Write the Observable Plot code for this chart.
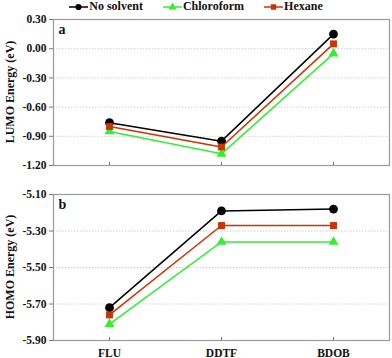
<!DOCTYPE html>
<html>
<head>
<meta charset="utf-8">
<script src="https://cdn.jsdelivr.net/npm/d3@7"></script>
<script src="https://cdn.jsdelivr.net/npm/@observablehq/plot@0.6"></script>
<style>
  html, body { margin: 0; padding: 0; background: #fff; }
  #wrap { position: relative; width: 392px; height: 358px; font-family: "Liberation Serif", "Times New Roman", serif; font-weight: bold; }
  #legend { position: absolute; left: 0; top: 0; width: 392px; height: 13px; display: flex; justify-content: center; align-items: center; gap: 20px; font-size: 12px; color: #111; }
  #legend span.item { display: flex; align-items: center; gap: 1px; }
  #topPanel, #bottomPanel { position: absolute; left: 0; }
  #topPanel { top: 12px; }
  #bottomPanel { top: 172px; }
  #wrap svg text { font-family: "Liberation Serif", "Times New Roman", serif !important; font-weight: bold; }
</style>
</head>
<body>
<div id="wrap">
  <div id="legend"></div>
  <div id="topPanel"></div>
  <div id="bottomPanel"></div>
</div>
<script>
const categories = ["FLU", "DDTF", "BDOB"];
const seriesNames = ["No solvent", "Chloroform", "Hexane"];
const seriesColors = ["#000000", "#33ee33", "#cc3300"];
const seriesSymbols = ["circle", "triangle", "square"];

const lumoNoSolvent = [-0.76, -0.95, 0.15];
const lumoChloroform = [-0.85, -1.08, -0.05];
const lumoHexane = [-0.80, -1.01, 0.05];

const homoNoSolvent = [-5.72, -5.19, -5.18];
const homoChloroform = [-5.81, -5.36, -5.36];
const homoHexane = [-5.76, -5.27, -5.27];

const lumoTicks = [0.30, 0.00, -0.30, -0.60, -0.90, -1.20];
const homoTicks = [-5.10, -5.30, -5.50, -5.70, -5.90];

function toRows(arrs) {
  const rows = [];
  arrs.forEach((vals, i) => {
    vals.forEach((v, j) => rows.push({series: seriesNames[i], cat: categories[j], value: v}));
  });
  return rows;
}
const lumoRows = toRows([lumoNoSolvent, lumoChloroform, lumoHexane]);
const homoRows = toRows([homoNoSolvent, homoChloroform, homoHexane]);

const symR = {circle: 4.4, triangle: 3.7, square: 3.9};
const FONT = '"Liberation Serif", "Times New Roman", serif';

function panel(rows, ticks, label, height, mt, mb, showLabels) {
  const dom = d3.extent(ticks);
  const marks = [
    Plot.ruleY(ticks, {stroke: "#c8d4d4", strokeDasharray: "1.5,1.5", strokeWidth: 1}),
    Plot.frame({stroke: "#9a9a9a", strokeWidth: 1.2}),
    Plot.axisY({ticks: ticks, tickFormat: d => d.toFixed(2), tickSize: 4, tickPadding: 3, fontSize: 11.5, stroke: "#777", fill: "#111", label: null}),
    Plot.axisX({tickSize: -3, tickFormat: () => "", stroke: "#777", label: null}),
  ];
  if (showLabels) {
    marks.push(Plot.axisX({tickSize: 0, tickPadding: 8, fontSize: 11.5, fill: "#111", label: null}));
  }
  seriesNames.forEach((s, i) => {
    const data = rows.filter(r => r.series === s);
    marks.push(Plot.line(data, {x: "cat", y: "value", stroke: seriesColors[i], strokeWidth: 1.5}));
    marks.push(Plot.dot(data, {x: "cat", y: "value", symbol: seriesSymbols[i], fill: seriesColors[i], r: symR[seriesSymbols[i]], stroke: "none"}));
  });
  marks.push(Plot.text([label], {frameAnchor: "top-left", dx: 5, dy: 5, fontSize: 14, fontWeight: "bold", fill: "#111"}));
  return Plot.plot({
    width: 392,
    height: height,
    marginLeft: 53,
    marginRight: 3,
    marginTop: mt,
    marginBottom: mb,
    style: {background: "transparent", fontSize: "11.5px", fontFamily: FONT, fontWeight: "bold"},
    x: {type: "point", domain: categories, padding: 0.5, label: null},
    y: {domain: [dom[0], dom[1]], label: null},
    marks
  });
}

function addYTitle(svg, text, mt, h, mb) {
  const cy = mt + (h - mt - mb) / 2;
  d3.select(svg).append("text")
    .attr("transform", `translate(14,${cy}) rotate(-90)`)
    .attr("text-anchor", "middle")
    .attr("font-size", 12)
    .attr("font-weight", "bold")
    .attr("font-family", FONT)
    .attr("fill", "#111")
    .text(text);
}

const topSvg = panel(lumoRows, lumoTicks, "a", 160, 7, 7, false);
addYTitle(topSvg, "LUMO Energy (eV)", 7, 160, 7);
document.getElementById("topPanel").appendChild(topSvg);

const botSvg = panel(homoRows, homoTicks, "b", 186, 22, 18, true);
addYTitle(botSvg, "HOMO Energy (eV)", 22, 186, 18);
document.getElementById("bottomPanel").appendChild(botSvg);

// legend
const leg = d3.select("#legend");
seriesNames.forEach((s, i) => {
  const item = leg.append("span").attr("class", "item");
  const sv = item.append("svg").attr("width", 19).attr("height", 10);
  sv.append("line").attr("x1", 0).attr("x2", 19).attr("y1", 5).attr("y2", 5).attr("stroke", seriesColors[i]).attr("stroke-width", 1.5);
  const symName = "symbol" + seriesSymbols[i][0].toUpperCase() + seriesSymbols[i].slice(1);
  sv.append("path").attr("transform", "translate(9.5,5)")
    .attr("d", d3.symbol(d3[symName], 30)())
    .attr("fill", seriesColors[i]);
  item.append("span").text(s);
});
</script>
</body>
</html>
